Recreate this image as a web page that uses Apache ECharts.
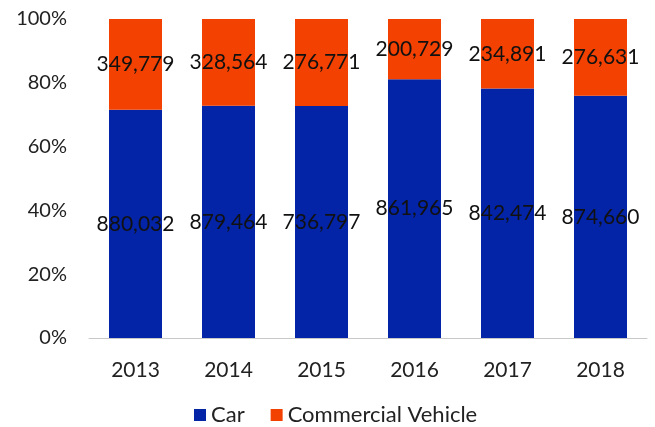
<!DOCTYPE html>
<html><head><meta charset="utf-8">
<script src="https://cdn.jsdelivr.net/npm/echarts@6/dist/echarts.min.js"></script>
<style>html,body{margin:0;padding:0;background:#fff}#c{width:655px;height:427px}</style>
</head><body><div id="c"></div>
<script>
const years = ['2013','2014','2015','2016','2017','2018'];
const car = [880032, 879464, 736797, 861965, 842474, 874660];
const commercial = [349779, 328564, 276771, 200729, 234891, 276631];
const yTicks = ['0%','20%','40%','60%','80%','100%'];

const totals = years.map((_, i) => car[i] + commercial[i]);
const pct = (arr) => arr.map((v, i) => ({ value: v / totals[i] * 100, raw: v }));
const fmt = (p) => p.data.raw.toLocaleString('en-US');
const FONT = 'Lato, "Open Sans", sans-serif';

const chart = echarts.init(document.getElementById('c'), null, { renderer: 'canvas' });
chart.setOption({
  animation: false,
  textStyle: { fontFamily: FONT },
  grid: { left: 89, right: 8, top: 19, bottom: 89, containLabel: false },
  legend: {
    top: 404, left: 194, padding: 0,
    itemWidth: 12, itemHeight: 12, itemGap: 26,
    icon: 'rect',
    textStyle: { fontFamily: FONT, fontSize: 22, color: '#222' },
    data: ['Car', 'Commercial Vehicle']
  },
  xAxis: {
    type: 'category', data: years,
    axisLine: { lineStyle: { color: '#c8c8c8', width: 1 } },
    axisTick: { show: false },
    axisLabel: { fontFamily: FONT, fontSize: 21, color: '#222', margin: 22 }
  },
  yAxis: {
    type: 'value', min: 0, max: 100, interval: 20,
    splitLine: { show: false },
    axisLine: { show: false },
    axisTick: { show: false },
    axisLabel: { fontFamily: FONT, fontSize: 20, color: '#222', margin: 22,
      formatter: (v) => yTicks[Math.round(v / 20)] }
  },
  series: [
    { name: 'Car', type: 'bar', stack: 's', barWidth: 53, data: pct(car),
      itemStyle: { color: '#0424A8' },
      label: { show: true, position: 'inside', formatter: fmt, color: '#111', fontFamily: FONT, fontSize: 21 } },
    { name: 'Commercial Vehicle', type: 'bar', stack: 's', barWidth: 53, data: pct(commercial),
      itemStyle: { color: '#F24100' },
      label: { show: true, position: 'inside', formatter: fmt, color: '#111', fontFamily: FONT, fontSize: 21 } }
  ]
});
</script></body></html>
